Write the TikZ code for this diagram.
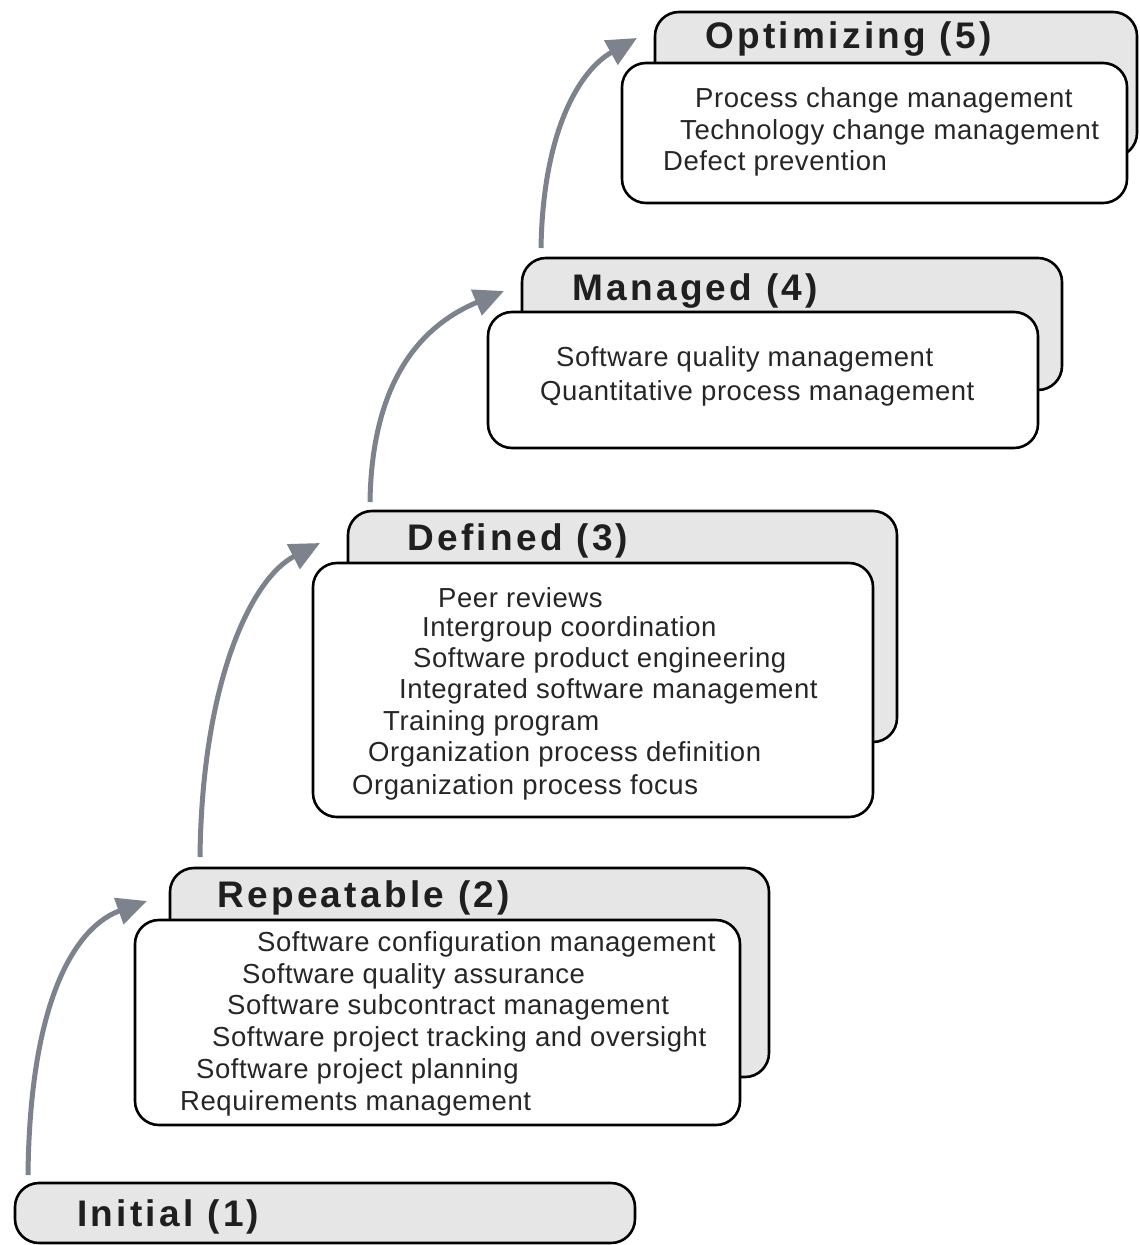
\documentclass[tikz,border=0pt]{standalone}
\usepackage{fontspec}
\setmainfont{Liberation Sans}
\usetikzlibrary{arrows.meta}
\definecolor{tabgray}{RGB}{230,230,230}
\definecolor{arrowgray}{RGB}{124,131,141}

\begin{document}
\begin{tikzpicture}[x=1pt,y=-1pt,
    backbox/.style={draw, line width=2.6pt, rounded corners=24pt, fill=tabgray, inner sep=0pt},
    frontbox/.style={draw, line width=2.6pt, rounded corners=24pt, fill=white, inner sep=0pt},
    level/.style={anchor=west, inner sep=0pt, text=black!88, font=\fontsize{37}{42}\selectfont\bfseries\addfontfeature{LetterSpace=9}},
    item/.style={anchor=west, inner sep=0pt, text=black!85, font=\fontsize{27.5}{32}\selectfont\addfontfeature{LetterSpace=2}},
    stepup/.style={draw=arrowgray, line width=5pt, -{Triangle[length=30pt,width=27pt]}}]
                        \useasboundingbox (0,0) rectangle (1140,1245);

                        % Boxes
                        \node[backbox, minimum width=482pt, minimum height=145pt] (opt) at (896,84.5) {};
                        \node[frontbox, minimum width=505pt, minimum height=140pt] (optlist) at (874.5,133) {};
                        \node[backbox, minimum width=540pt, minimum height=132pt] (man) at (792,324) {};
                        \node[frontbox, minimum width=550pt, minimum height=136pt] (manlist) at (763,380) {};
                        \node[backbox, minimum width=549pt, minimum height=231pt] (def) at (622.5,626.5) {};
                        \node[frontbox, minimum width=560pt, minimum height=254pt] (deflist) at (593,690) {};
                        \node[backbox, minimum width=599pt, minimum height=209pt] (rep) at (469.5,972.5) {};
                        \node[frontbox, minimum width=605pt, minimum height=205pt] (replist) at (437.5,1022.5) {};
                        \node[backbox, minimum width=620pt, minimum height=60pt] (ini) at (325,1213) {};

                        % Titles
                        \node[level] (opt-t) at (705,39) {Optimizing (5)};
                        \node[level] (man-t) at (572,291) {Managed (4)};
                        \node[level] (def-t) at (407,541) {Defined (3)};
                        \node[level] (rep-t) at (217,898) {Repeatable (2)};
                        \node[level] (ini-t) at (77,1217) {Initial (1)};

                        % Key process areas
                        \node[item] (opt1) at (695,100) {Process change management};
                        \node[item] (opt2) at (680,132) {Technology change management};
                        \node[item] (opt3) at (663,163) {Defect prevention};

                        \node[item] (man1) at (556,359) {Software quality management};
                        \node[item] (man2) at (540,393) {Quantitative process management};

                        \node[item] (def1) at (438,598) {Peer reviews};
                        \node[item] (def2) at (422,629) {Intergroup coordination};
                        \node[item] (def3) at (413,660) {Software product engineering};
                        \node[item] (def4) at (399,691) {Integrated software management};
                        \node[item] (def5) at (383,723) {Training program};
                        \node[item] (def6) at (368,754) {Organization process definition};
                        \node[item] (def7) at (352,787) {Organization process focus};

                        \node[item] (rep1) at (257,944) {Software configuration management};
                        \node[item] (rep2) at (242,976) {Software quality assurance};
                        \node[item] (rep3) at (227,1007) {Software subcontract management};
                        \node[item] (rep4) at (212,1039) {Software project tracking and oversight};
                        \node[item] (rep5) at (196,1071) {Software project planning};
                        \node[item] (rep6) at (180,1103) {Requirements management};

                        % Arrow ends
                        \coordinate (from1) at (28,1175);
                        \coordinate (to2) at (147,901);
                        \coordinate (from2) at (200,857);
                        \coordinate (to3) at (320,543);
                        \coordinate (from3) at (370,502);
                        \coordinate (to4) at (504,291);
                        \coordinate (from4) at (541,248);
                        \coordinate (to5) at (637,38);

                        % Arrows
                        \draw[stepup] (from1) .. controls (30,990) and (80,925) .. (to2);
                        \draw[stepup] (from2) .. controls (202,680) and (252,578) .. (to3);
                        \draw[stepup] (from3) .. controls (372,370) and (430,322) .. (to4);
                        \draw[stepup] (from4) .. controls (543,130) and (580,70) .. (to5);
                    \end{tikzpicture}
\end{document}
